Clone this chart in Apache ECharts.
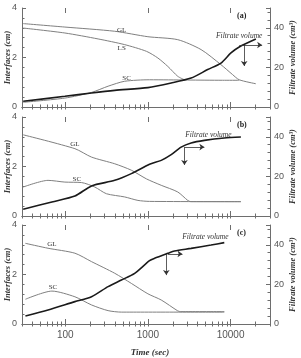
<!DOCTYPE html>
<html>
<head>
<meta charset="utf-8">
<script src="https://cdn.jsdelivr.net/npm/echarts@6/dist/echarts.min.js"></script>
<style>
  html, body { margin: 0; padding: 0; background: #fff; }
  #chart { width: 301px; height: 358px; }
</style>
</head>
<body>
<div id="chart"></div>
<script>
// tick values of the time axis (sec)
const xMajorTicks = [100, 1000, 10000]
const xAllTicks = [30, 40, 50, 60, 70, 80, 90, 100, 200, 300, 400, 500, 600, 700, 800, 900,
  1000, 2000, 3000, 4000, 5000, 6000, 7000, 8000, 9000, 10000, 20000, 30000]

// panel (a): interfaces (cm) and filtrate volume (cm3) vs time (sec)
const glA = [[31, 3.37], [99, 3.23], [397, 3.06], [1000, 2.84], [2298, 2.72], [4398, 2.32], [7656, 1.71], [10570, 1.31], [12730, 1.10], [20230, 0.94]]
const lsA = [[31, 3.19], [99, 2.99], [250, 2.75], [524, 2.52], [960, 2.25], [1320, 1.98], [1742, 1.64], [2298, 1.24], [2768, 1.10]]
const scA = [[31, 0.19], [99, 0.36], [208, 0.59], [330, 0.84], [524, 1.04], [1047, 1.10], [3000, 1.09], [8000, 1.08], [12730, 1.08]]
const fvA = [[31, 2.9], [99, 5.4], [208, 7.1], [397, 8.4], [1000, 9.8], [1914, 12.1], [3334, 14.6], [5284, 18.9], [7656, 22.2], [10110, 27.3], [12730, 30.3], [20230, 34.3]]

// panel (b)
const glB = [[31, 3.28], [131, 2.72], [208, 2.38], [397, 2.11], [631, 1.85], [960, 1.50], [1450, 1.24], [2298, 0.97], [3035, 0.63], [3300, 0.58], [13340, 0.58]]
const scB = [[31, 1.17], [62, 1.44], [99, 1.37], [158, 1.35], [228, 1.17], [315, 0.90], [524, 0.77], [758, 0.63], [1047, 0.59], [13340, 0.58]]
const fvB = [[31, 3.4], [69, 7.1], [131, 10.1], [208, 15.2], [397, 18.0], [631, 21.4], [1047, 26.1], [1450, 28.1], [1914, 31.0], [2525, 34.8], [3334, 36.9], [4823, 38.2], [8398, 39.4], [13340, 39.9]]

// panel (c)
const glC = [[33, 3.26], [62, 3.06], [131, 2.86], [208, 2.52], [397, 2.05], [631, 1.64], [1000, 1.22], [1450, 0.97], [2298, 0.53], [2500, 0.50], [8398, 0.50]]
const scC = [[33, 1.00], [69, 1.33], [131, 1.10], [208, 0.77], [330, 0.54], [478, 0.48], [8398, 0.48]]
const fvC = [[33, 4.0], [62, 7.1], [131, 11.3], [208, 13.8], [330, 18.9], [478, 22.2], [692, 25.6], [1047, 32.0], [1205, 33.2], [1742, 35.7], [2097, 36.9], [3334, 38.2], [5804, 39.9], [8398, 41.1]]

// annotation anchors (data space)
const notesA = { GL: [482, 3.11], LS: [482, 2.38], SC: [553, 1.17] }
const notesB = { GL: [131, 2.91], SC: [138, 1.49] }
const notesC = { GL: [69, 3.23], SC: [71, 1.49] }
const fvTextAt = [[12730, 35.9], [5390, 40.9], [4960, 43.9]]
// arrows: [start, end of horizontal], [start, end of vertical]
const arrowsA = [[[12730, 31.3], [24100, 31.3]], [[14620, 31.3], [14620, 20.7]]]
const arrowsB = [[[2768, 34.8], [4823, 34.8]], [[2768, 34.8], [2768, 25.8]]]
const arrowsC = [[[1742, 35.4], [2620, 35.4]], [[1670, 35.4], [1670, 24.7]]]
const panelNames = ['(a)', '(b)', '(c)']

const serif = 'Liberation Serif'
const sans = 'Liberation Sans'
const axisColor = '#6e6e6e'
const thinColor = '#808080'
const panelTops = [8, 117, 225]

const chart = echarts.init(document.getElementById('chart'))

const grids = []
const xAxes = []
const yAxes = []
const series = []

function gridAt(top) {
  // v6 would shrink the grid to keep axis names inside, we don't want that
  return { left: 22, width: 248, top: top, height: 99, containLabel: false, outerBoundsMode: 'none' }
}

function xAxisFor(i, pos, overlay) {
  const last = i === 2
  return {
    type: 'log', logBase: 10, gridIndex: overlay ? i + 3 : i, position: pos,
    min: 30, max: 30000,
    axisLine: { show: !overlay, lineStyle: { color: axisColor, width: 1 } },
    axisTick: {
      show: true, inside: true, length: overlay ? 5 : 2.5,
      customValues: overlay ? xMajorTicks : xAllTicks,
      lineStyle: { color: axisColor, width: 1 }
    },
    axisLabel: {
      show: !overlay && last && pos === 'bottom',
      customValues: xMajorTicks,
      formatter: (v) => String(Math.round(v)),
      fontFamily: sans, fontSize: 10, color: '#555', margin: 6
    },
    splitLine: { show: false },
    name: (!overlay && last && pos === 'bottom') ? 'Time (sec)' : '',
    nameLocation: 'middle', nameGap: 24, nameMoveOverlap: false,
    nameTextStyle: { fontFamily: serif, fontStyle: 'italic', fontWeight: 'bold', fontSize: 9, color: '#333', padding: [0, 0, 0, 8] }
  }
}

function yAxisLeft(i) {
  return {
    type: 'value', gridIndex: i, position: 'left', min: 0, max: 4, interval: 2,
    axisLine: { show: true, lineStyle: { color: axisColor, width: 1 } },
    axisTick: { show: true, inside: true, length: 4, lineStyle: { color: axisColor } },
    minorTick: { show: true, splitNumber: 5, length: 2.5, lineStyle: { color: axisColor } },
    axisLabel: { fontFamily: sans, fontSize: 9, color: '#555', margin: 5 },
    splitLine: { show: false },
    name: 'Interfaces (cm)', nameLocation: 'middle', nameGap: 10, nameRotate: 90, nameMoveOverlap: false,
    nameTextStyle: { fontFamily: serif, fontStyle: 'italic', fontWeight: 'bold', fontSize: 8.5, color: '#333' }
  }
}

function yAxisRight(i) {
  return {
    type: 'value', gridIndex: i, position: 'right', min: 0, max: 50, interval: 20,
    axisLine: { show: true, lineStyle: { color: axisColor, width: 1 } },
    axisTick: { show: true, inside: true, length: 4, lineStyle: { color: axisColor } },
    minorTick: { show: true, splitNumber: 5, length: 2.5, lineStyle: { color: axisColor } },
    axisLabel: { fontFamily: sans, fontSize: 9, color: '#555', margin: 4, showMaxLabel: false },
    splitLine: { show: false },
    name: 'Filtrate volume (cm³)', nameLocation: 'middle', nameGap: 18, nameRotate: 90, nameMoveOverlap: false,
    nameTextStyle: { fontFamily: serif, fontStyle: 'italic', fontWeight: 'bold', fontSize: 8.5, color: '#333' }
  }
}

function noteMark(name, at) {
  return {
    silent: true, symbol: 'circle', symbolSize: 1,
    itemStyle: { color: 'rgba(0,0,0,0)' },
    label: { show: true, position: 'inside', formatter: name, fontFamily: serif, fontSize: 7, color: '#333' },
    data: [{ coord: at }]
  }
}

function thinLine(i, name, data, note) {
  return {
    type: 'line', name: name, xAxisIndex: 2 * i, yAxisIndex: 2 * i,
    data: data, showSymbol: false, smooth: 0.25,
    lineStyle: { color: thinColor, width: 1 },
    markPoint: note ? noteMark(name, note) : undefined
  }
}

function buildPanel(i, curves, fv, notes, arrows) {
  grids.push(gridAt(panelTops[i]))
  xAxes.push(xAxisFor(i, 'bottom', false), xAxisFor(i, 'top', false))
  yAxes.push(yAxisLeft(i), yAxisRight(i))

  Object.keys(curves).forEach((name) => {
    series.push(thinLine(i, name, curves[name], notes[name]))
  })

  series.push({
    type: 'line', name: 'Filtrate volume', xAxisIndex: 2 * i, yAxisIndex: 2 * i + 1,
    data: fv, showSymbol: false, smooth: 0.25,
    lineStyle: { color: '#1a1a1a', width: 1.6 },
    markPoint: {
      silent: true, symbol: 'circle', symbolSize: 1,
      itemStyle: { color: 'rgba(0,0,0,0)' },
      label: { show: true, position: 'inside', formatter: 'Filtrate volume', fontFamily: serif, fontStyle: 'italic', fontSize: 7.5, color: '#333' },
      data: [{ coord: fvTextAt[i] }]
    },
    markLine: {
      silent: true, symbol: ['none', 'arrow'], symbolSize: 5,
      label: { show: false },
      lineStyle: { color: '#333', width: 0.8, type: 'solid' },
      data: arrows.map((a) => [{ coord: a[0] }, { coord: a[1] }])
    }
  })
}

buildPanel(0, { GL: glA, LS: lsA, SC: scA }, fvA, notesA, arrowsA)
buildPanel(1, { GL: glB, SC: scB }, fvB, notesB, arrowsB)
buildPanel(2, { GL: glC, SC: scC }, fvC, notesC, arrowsC)

// overlay grids: only the longer decade ticks
for (let i = 0; i < 3; i++) {
  grids.push(gridAt(panelTops[i]))
  xAxes.push(xAxisFor(i, 'bottom', true), xAxisFor(i, 'top', true))
  yAxes.push({ type: 'value', gridIndex: i + 3, min: 0, max: 1, show: false })
}

const graphics = panelNames.map((t, i) => ({
  type: 'text', left: 237, top: panelTops[i] + 4,
  style: { text: t, fontFamily: serif, fontWeight: 'bold', fontSize: 8, fill: '#222' }
}))

chart.setOption({
  animation: false,
  backgroundColor: '#fff',
  grid: grids,
  xAxis: xAxes,
  yAxis: yAxes,
  series: series,
  graphic: graphics
})
</script>
</body>
</html>
